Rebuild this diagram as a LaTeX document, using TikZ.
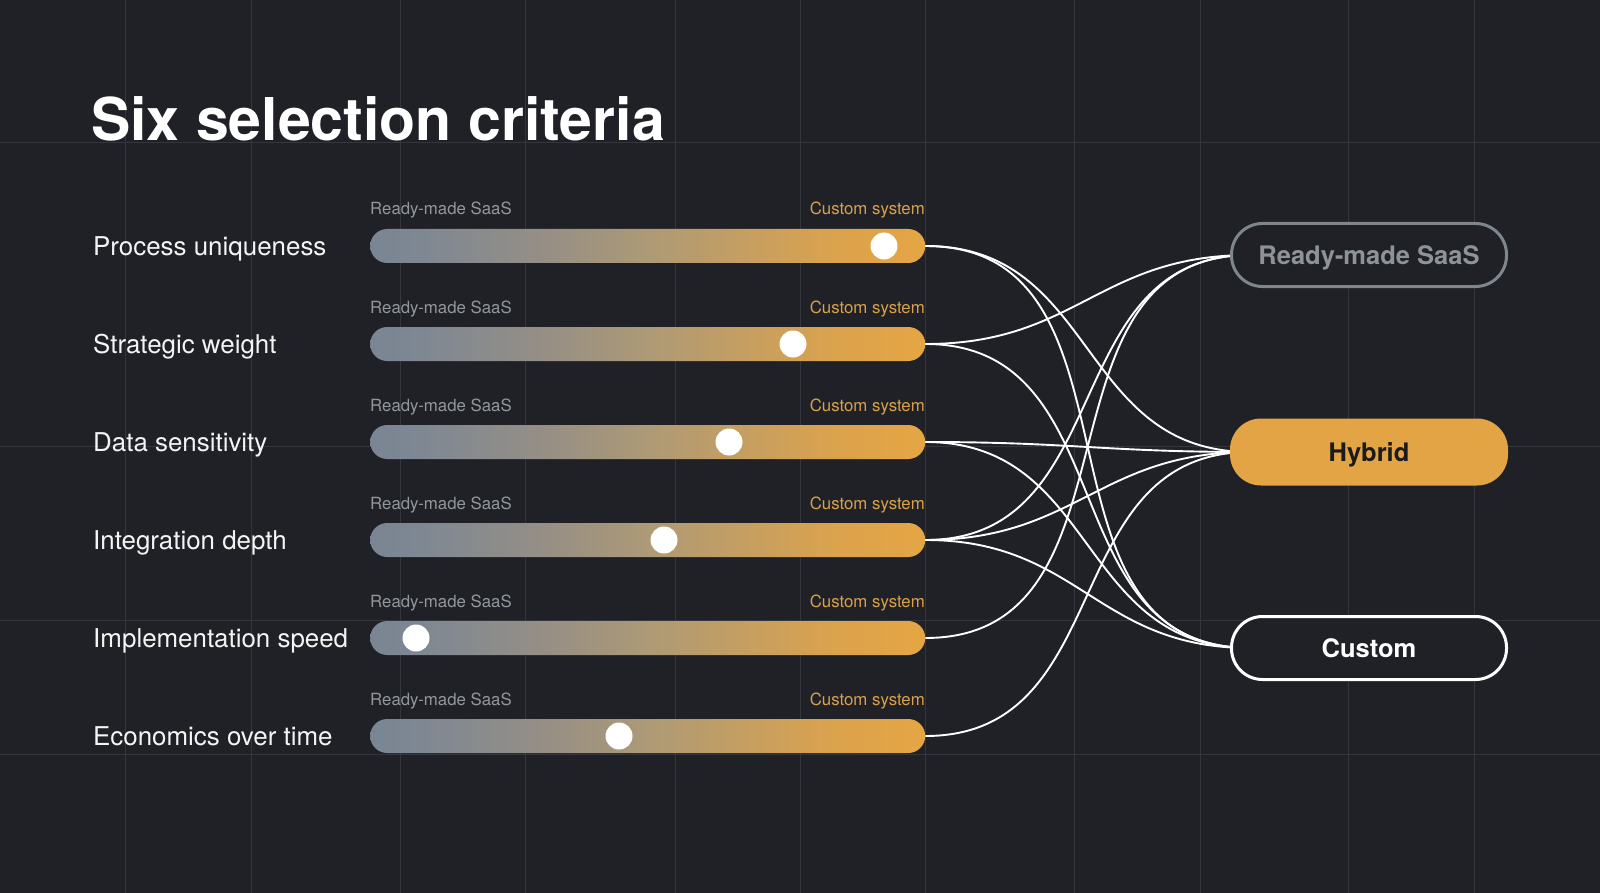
\documentclass[tikz,border=0pt]{standalone}
\usepackage{fontspec}
\setmainfont{TeX Gyre Heros}
\definecolor{bg}{HTML}{1F2126}
\definecolor{gridc}{HTML}{33363C}
\definecolor{sA}{HTML}{7A8594}
\definecolor{sB}{HTML}{7F8892}
\definecolor{sC}{HTML}{948E86}
\definecolor{sD}{HTML}{AD9A76}
\definecolor{sE}{HTML}{C99F5E}
\definecolor{sF}{HTML}{DCA34C}
\definecolor{sG}{HTML}{E5A543}
\definecolor{lblgray}{HTML}{92979E}
\definecolor{lblorange}{HTML}{D9A14C}
\definecolor{saasc}{HTML}{80868E}
\definecolor{saast}{HTML}{8E939A}
\definecolor{hybc}{HTML}{E2A445}
\definecolor{txtw}{HTML}{F4F4F4}
\definecolor{darktxt}{HTML}{1B1B1D}
\pgfdeclarehorizontalshading{barshade}{100bp}{color(0bp)=(sA); color(25bp)=(sA); color(30bp)=(sB); color(40bp)=(sC); color(50bp)=(sD); color(60bp)=(sE); color(67.5bp)=(sF); color(75bp)=(sG); color(100bp)=(sG)}
\tikzset{
  gridline/.style={gridc, line width=1pt},
  crit/.style={anchor=base west, text=txtw, inner sep=0pt, font=\fontsize{25.9}{31}\selectfont},
  endl/.style={anchor=base west, text=lblgray, inner sep=0pt, font=\fontsize{16.8}{20}\selectfont},
  endr/.style={anchor=base east, text=lblorange, inner sep=0pt, font=\fontsize{16.8}{20}\selectfont},
  track/.style={rectangle, rounded corners=17pt, shading=barshade, shading angle=0, minimum width=555pt, minimum height=34pt, inner sep=0pt, anchor=west},
  knob/.style={circle, fill=white, minimum size=27pt, inner sep=0pt},
  outbox/.style={rectangle, rounded corners=31pt, minimum width=275pt, minimum height=63pt, line width=3pt, inner sep=0pt, text depth=0pt, font=\fontsize{25.5}{30}\selectfont\bfseries},
  conn/.style={white, line width=1.9pt, out=0, in=180, looseness=1.15}
}
\begin{document}
\begin{tikzpicture}[x=1pt,y=-1pt]
\fill[bg] (0,0) rectangle (1600,893);
\useasboundingbox (0,0) rectangle (1600,893);
% grid
\foreach \gx in {125,251,400,525,675,800,925,1074,1200,1348,1474}
  \draw[gridline] (\gx,0) -- (\gx,893);
\foreach \gy in {143,446,620,754}
  \draw[gridline] (0,\gy) -- (1600,\gy);
% title
\node[anchor=base west, inner sep=0pt, text=white, font=\fontsize{59}{70}\selectfont\bfseries] (title) at (91,141) {Six selection criteria};
% rows
\foreach \i/\yy/\kx/\name in {1/246/884/Process uniqueness, 2/344/793/Strategic weight, 3/442/729/Data sensitivity, 4/540/664/Integration depth, 5/638/416/Implementation speed, 6/736/619/Economics over time}{
  \node[crit] (l\i) at (93,\yy+9) {\name};
  \node[endl] (sa\i) at (370,\yy-31) {Ready-made SaaS};
  \node[endr] (cs\i) at (925,\yy-31) {Custom system};
  \node[track] (b\i) at (370,\yy) {};
  \node[knob] (k\i) at (\kx,\yy) {};
}
% connector end points (hidden under the outcome boxes)
\coordinate (saasW) at (1250,255);
\coordinate (hybW) at (1250,452);
\coordinate (cusW) at (1250,648);
% connectors
\draw[conn] (b1.east) to (hybW);
\draw[conn] (b1.east) to (cusW);
\draw[conn] (b2.east) to (saasW);
\draw[conn] (b2.east) to (cusW);
\draw[conn] (b3.east) to (hybW);
\draw[conn] (b3.east) to (cusW);
\draw[conn] (b4.east) to (saasW);
\draw[conn] (b4.east) to (hybW);
\draw[conn] (b4.east) to (cusW);
\draw[conn] (b5.east) to (saasW);
\draw[conn] (b6.east) to (hybW);
% boxes
\node[outbox, draw=saasc, fill=bg, text=saast, anchor=west] (saas) at (1230,255) {Ready-made SaaS};
\node[outbox, fill=hybc, text=darktxt, anchor=west, minimum height=67pt, minimum width=278pt] (hyb) at (1228.5,452) {Hybrid};
\node[outbox, draw=white, fill=bg, text=white, anchor=west] (cus) at (1230,648) {Custom};
\end{tikzpicture}
\end{document}
